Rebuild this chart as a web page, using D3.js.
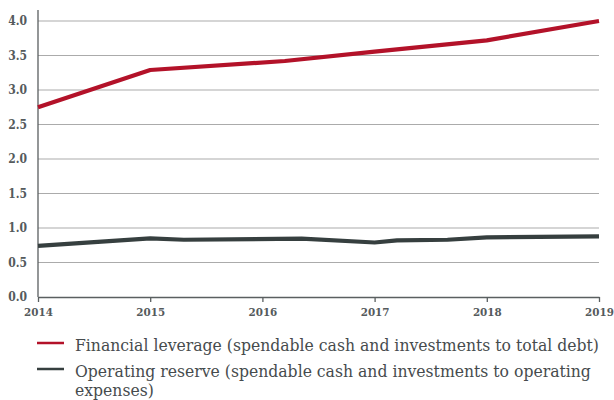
<!DOCTYPE html>
<html>
<head>
<meta charset="utf-8">
<script src="https://cdn.jsdelivr.net/npm/d3@7"></script>
<style>
  html, body { margin: 0; padding: 0; background: #fff; }
  svg { display: block; }
</style>
</head>
<body>
<svg id="chart" width="614" height="400"></svg>
<script>
// Year positions (decimal years where the series bends between year ends)
const leverageYears  = [2014, 2015, 2016.2, 2017, 2018, 2019];
const leverageValues = [2.75, 3.29, 3.42, 3.555, 3.72, 4.0];

const reserveYears  = [2014, 2015, 2015.3, 2016.35, 2017, 2017.2, 2017.65, 2018, 2019];
const reserveValues = [0.74, 0.85, 0.83, 0.845, 0.79, 0.82, 0.83, 0.865, 0.88];

const xTickYears = [2014, 2015, 2016, 2017, 2018, 2019];
const yTickValues = [0, 0.5, 1, 1.5, 2, 2.5, 3, 3.5, 4];

const seriesNames = [
  ["Financial leverage (spendable cash and investments to total debt)"],
  ["Operating reserve (spendable cash and investments to operating", "expenses)"]
];
const seriesColors = ["#b31229", "#363f3f"];

const svg = d3.select("#chart");
const plotLeft = 38, plotRight = 599, plotTop = 21, plotBottom = 297;

const x = d3.scaleLinear().domain([2014, 2019]).range([plotLeft, plotRight]);
const y = d3.scaleLinear().domain([0, 4]).range([plotBottom, plotTop]);

const serif = "'DejaVu Serif Condensed', 'DejaVu Serif', serif";

// horizontal gridlines
svg.append("g")
  .selectAll("line")
  .data(yTickValues.filter(v => v > 0))
  .join("line")
  .attr("x1", plotLeft).attr("x2", plotRight)
  .attr("y1", d => y(d)).attr("y2", d => y(d))
  .attr("stroke", "#ababab").attr("stroke-width", 1.2);

// y axis
const yAxis = svg.append("g")
  .attr("transform", `translate(${plotLeft},0)`)
  .call(d3.axisLeft(y).tickValues(yTickValues).tickFormat(d3.format(".1f")).tickSize(0).tickPadding(11));
yAxis.select(".domain").attr("d", `M0,10V${plotBottom}`).attr("stroke", "#5a5f60").attr("stroke-width", 1.3);
yAxis.selectAll("text")
  .attr("font-family", serif).attr("font-weight", "bold")
  .attr("font-size", 12).attr("fill", "#555a5c");

// x axis
const xAxis = svg.append("g")
  .attr("transform", `translate(0,${plotBottom})`)
  .call(d3.axisBottom(x).tickValues(xTickYears).tickFormat(d3.format("d")).tickSize(5).tickSizeOuter(0).tickPadding(6));
xAxis.select(".domain").attr("stroke", "#5a5f60").attr("stroke-width", 1.3);
xAxis.selectAll(".tick line").attr("stroke", "#5a5f60").attr("stroke-width", 1.3);
xAxis.selectAll("text")
  .attr("font-family", serif).attr("font-weight", "bold")
  .attr("font-size", 11.5).attr("fill", "#555a5c");

// series lines
const line = d3.line().x(d => x(d[0])).y(d => y(d[1]));
const series = [
  d3.zip(leverageYears, leverageValues),
  d3.zip(reserveYears, reserveValues)
];
svg.append("g")
  .selectAll("path")
  .data(series)
  .join("path")
  .attr("d", line)
  .attr("fill", "none")
  .attr("stroke", (d, i) => seriesColors[i])
  .attr("stroke-width", 4.2)
  .attr("stroke-linejoin", "round");

// legend
const legendRows = [343, 369];
const legend = svg.append("g");
seriesNames.forEach((lines, i) => {
  legend.append("line")
    .attr("x1", 37).attr("x2", 64)
    .attr("y1", legendRows[i]).attr("y2", legendRows[i])
    .attr("stroke", seriesColors[i]).attr("stroke-width", 2.5);
  lines.forEach((t, j) => {
    legend.append("text")
      .attr("x", 75).attr("y", legendRows[i] + 7.5 + j * 19.5)
      .attr("font-family", serif).attr("font-size", 17.4)
      .attr("fill", "#464b4d")
      .text(t);
  });
});
</script>
</body>
</html>
